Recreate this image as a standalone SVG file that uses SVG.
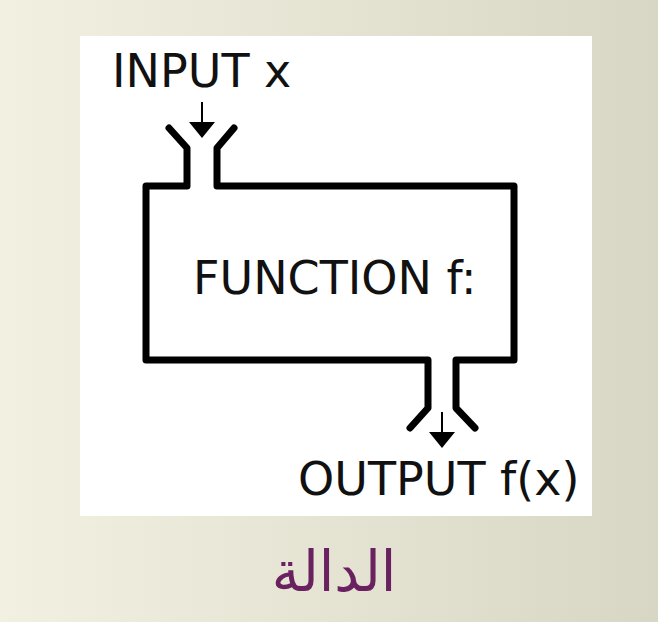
<svg xmlns="http://www.w3.org/2000/svg" width="658" height="622" viewBox="0 0 658 622">
  <defs>
    <linearGradient id="bg" x1="0" y1="0" x2="1" y2="0">
      <stop offset="0" stop-color="#f2f0e0"/>
      <stop offset="1" stop-color="#d8d6c5"/>
    </linearGradient>
    <style>
      .lbl { font-family: "DejaVu Sans", "Liberation Sans", sans-serif; font-size: 46px; fill: #111; }
      .wall { fill: none; stroke: #000; stroke-width: 7; stroke-linejoin: round; stroke-linecap: round; }
      .shaft { stroke: #000; stroke-width: 2; }
      .head { fill: #000; }
      .title { font-family: "DejaVu Sans", "Noto Sans", sans-serif; font-size: 56px; fill: #6a2160; }
    </style>
  </defs>
  <rect x="0" y="0" width="658" height="622" fill="url(#bg)"/>
  <rect x="80" y="36" width="512" height="480" fill="#ffffff"/>

  <g id="function-box">
    <path class="wall" d="M169,128 L187,148 L187,186 L146,186 L146,360 L428,360 L428,408 L410,428"/>
    <path class="wall" d="M234,128 L217,148 L217,186 L514,186 L514,360 L456,360 L456,408 L475,428"/>
    <text class="lbl" x="193" y="294">FUNCTION f:</text>
  </g>

  <g id="input">
    <text class="lbl" x="112" y="87">INPUT x</text>
  </g>

  <g id="output">
    <text class="lbl" x="298" y="495">OUTPUT f(x)</text>
  </g>

  <g id="connectors">
    <line class="shaft" x1="202" y1="102" x2="202" y2="124"/>
    <polygon class="head" points="189,122 215,122 202,138"/>
    <line class="shaft" x1="442" y1="412" x2="442" y2="434"/>
    <polygon class="head" points="429,432 455,432 442,448"/>
  </g>

  <g id="title">
    <text class="title" x="334" y="591" text-anchor="middle" direction="rtl">الدالة</text>
  </g>
</svg>
